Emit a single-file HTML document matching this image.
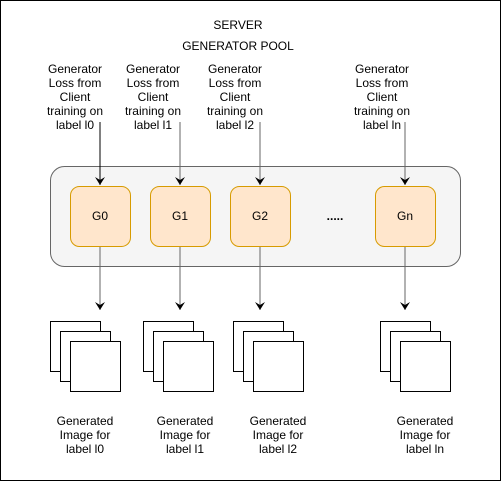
<!DOCTYPE html>
<html><head><style>body{margin:0;background:#fff}</style></head><body>
<svg width="501" height="481" xmlns="http://www.w3.org/2000/svg" font-family="Liberation Sans, Arial, sans-serif" font-size="12" fill="#000">
<defs><marker id="a" markerWidth="10" markerHeight="10" refX="8" refY="5" orient="auto" markerUnits="userSpaceOnUse"><path d="M0,0 L8,5 L0,10 L3,5 z" fill="#000"/></marker></defs>
<rect x="0.5" y="0.5" width="500" height="480" fill="#fff" stroke="#000"/>
<text x="238" y="29" text-anchor="middle">SERVER</text>
<text x="238" y="50" text-anchor="middle">GENERATOR POOL</text>
<g text-anchor="middle">
<text x="75" y="73">Generator</text><text x="75" y="87">Loss from</text><text x="75" y="101">Client</text><text x="75" y="115">training on</text><text x="75" y="129">label l0</text>
<text x="153" y="73">Generator</text><text x="153" y="87">Loss from</text><text x="153" y="101">Client</text><text x="153" y="115">training on</text><text x="153" y="129">label l1</text>
<text x="235" y="73">Generator</text><text x="235" y="87">Loss from</text><text x="235" y="101">Client</text><text x="235" y="115">training on</text><text x="235" y="129">label l2</text>
<text x="382" y="73">Generator</text><text x="382" y="87">Loss from</text><text x="382" y="101">Client</text><text x="382" y="115">training on</text><text x="382" y="129">label ln</text>
</g>
<rect x="50.5" y="166.5" width="410" height="100" rx="14" fill="#f5f5f5" stroke="#666"/>
<g stroke="#000" stroke-width="1">
<line x1="100" y1="122" x2="100" y2="185" marker-end="url(#a)"/>
</g>
<g stroke="#666" stroke-width="1">
<line x1="180" y1="122" x2="180" y2="185" marker-end="url(#a)"/>
<line x1="260" y1="122" x2="260" y2="185" marker-end="url(#a)"/>
<line x1="405" y1="122" x2="405" y2="185" marker-end="url(#a)"/>
<line x1="100" y1="246" x2="100" y2="310" marker-end="url(#a)"/>
<line x1="180" y1="246" x2="180" y2="310" marker-end="url(#a)"/>
<line x1="260" y1="246" x2="260" y2="310" marker-end="url(#a)"/>
<line x1="405" y1="246" x2="405" y2="310" marker-end="url(#a)"/>
</g>
<g fill="#ffe6cc" stroke="#d79b00">
<rect x="70.5" y="186.5" width="60" height="60" rx="9"/>
<rect x="150.5" y="186.5" width="60" height="60" rx="9"/>
<rect x="230.5" y="186.5" width="60" height="60" rx="9"/>
<rect x="375.5" y="186.5" width="60" height="60" rx="9"/>
</g>
<g text-anchor="middle">
<text x="100" y="220">G0</text><text x="180" y="220">G1</text><text x="260" y="220">G2</text><text x="405" y="220">Gn</text>
<text x="335" y="220" font-weight="bold">.....</text>
</g>
<g fill="#fff" stroke="#000">
<rect x="50.5" y="321.5" width="50" height="50"/><rect x="60.5" y="331.5" width="50" height="50"/><rect x="70.5" y="341.5" width="50" height="50"/>
<rect x="143.5" y="321.5" width="50" height="50"/><rect x="153.5" y="331.5" width="50" height="50"/><rect x="163.5" y="341.5" width="50" height="50"/>
<rect x="233.5" y="321.5" width="50" height="50"/><rect x="243.5" y="331.5" width="50" height="50"/><rect x="253.5" y="341.5" width="50" height="50"/>
<rect x="380.5" y="321.5" width="50" height="50"/><rect x="390.5" y="331.5" width="50" height="50"/><rect x="400.5" y="341.5" width="50" height="50"/>
</g>
<g text-anchor="middle">
<text x="85" y="425">Generated</text><text x="85" y="439">Image for</text><text x="85" y="453">label l0</text>
<text x="185" y="425">Generated</text><text x="185" y="439">Image for</text><text x="185" y="453">label l1</text>
<text x="278" y="425">Generated</text><text x="278" y="439">Image for</text><text x="278" y="453">label l2</text>
<text x="425" y="425">Generated</text><text x="425" y="439">Image for</text><text x="425" y="453">label ln</text>
</g>
</svg>
</body></html>
